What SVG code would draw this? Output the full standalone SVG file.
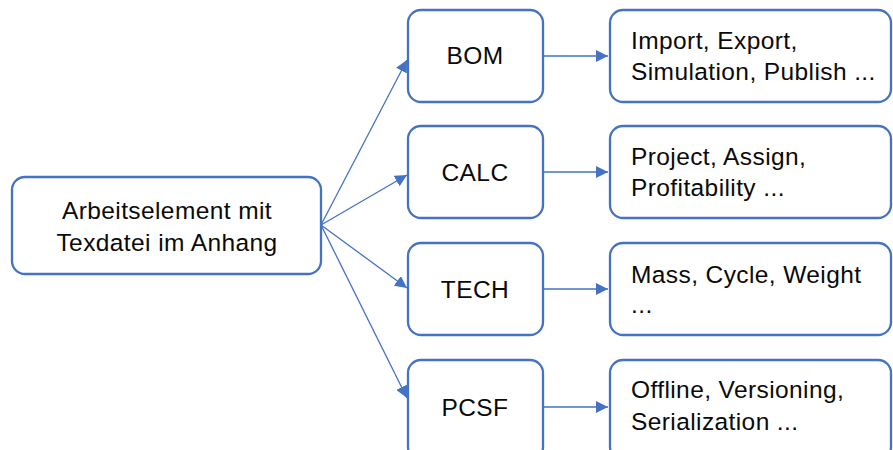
<svg xmlns="http://www.w3.org/2000/svg" width="893" height="450" viewBox="0 0 893 450">
<style>
.box{fill:#fff;stroke:#4472C4;stroke-width:2.3}
.t{font-family:"Liberation Sans",Arial,sans-serif;font-size:24.5px;letter-spacing:0.4px;fill:#0a0a0a}
.c{text-anchor:middle}
.ln{stroke:#4472C4;stroke-width:1.3;fill:none;marker-end:url(#ah)}
</style>
<defs>
<marker id="ah" viewBox="0 0 10 10" refX="10" refY="5" markerWidth="12" markerHeight="12" markerUnits="userSpaceOnUse" orient="auto">
<path d="M0,0 L10,5 L0,10 z" fill="#4472C4"/>
</marker>
</defs>
<rect width="893" height="450" fill="#fff"/>
<g id="connectors">
<line class="ln" x1="321" y1="225" x2="407" y2="60"/>
<line class="ln" x1="321" y1="225" x2="407" y2="175"/>
<line class="ln" x1="321" y1="225" x2="407" y2="288"/>
<line class="ln" x1="321" y1="225" x2="407" y2="398"/>
<line class="ln" x1="543" y1="56" x2="608" y2="56"/>
<line class="ln" x1="543" y1="172" x2="608" y2="172"/>
<line class="ln" x1="543" y1="289" x2="608" y2="289"/>
<line class="ln" x1="543" y1="407" x2="608" y2="407"/>
</g>
<g id="main">
<rect class="box" x="12" y="177" width="309" height="97" rx="13"/>
<text class="t c" x="167" y="219">Arbeitselement mit</text>
<text class="t c" x="167" y="251">Texdatei im Anhang</text>
</g>
<g id="bom">
<rect class="box" x="408" y="10" width="135" height="92" rx="13"/>
<text class="t c" x="475" y="64">BOM</text>
</g>
<g id="calc">
<rect class="box" x="408" y="126" width="135" height="92" rx="13"/>
<text class="t c" x="475" y="181">CALC</text>
</g>
<g id="tech">
<rect class="box" x="408" y="243" width="135" height="92" rx="13"/>
<text class="t c" x="475" y="298">TECH</text>
</g>
<g id="pcsf">
<rect class="box" x="408" y="360" width="135" height="100" rx="13"/>
<text class="t c" x="475" y="416">PCSF</text>
</g>
<g id="bom-detail">
<rect class="box" x="610" y="10" width="281" height="92" rx="13"/>
<text class="t" x="631" y="49">Import, Export,</text>
<text class="t" x="631" y="80">Simulation, Publish ...</text>
</g>
<g id="calc-detail">
<rect class="box" x="610" y="126" width="281" height="92" rx="13"/>
<text class="t" x="631" y="165">Project, Assign,</text>
<text class="t" x="631" y="196">Profitability ...</text>
</g>
<g id="tech-detail">
<rect class="box" x="610" y="243" width="281" height="92" rx="13"/>
<text class="t" x="631" y="283">Mass, Cycle, Weight</text>
<text class="t" x="631" y="313">...</text>
</g>
<g id="pcsf-detail">
<rect class="box" x="610" y="360" width="281" height="100" rx="13"/>
<text class="t" x="631" y="398">Offline, Versioning,</text>
<text class="t" x="631" y="430">Serialization ...</text>
</g>
</svg>
